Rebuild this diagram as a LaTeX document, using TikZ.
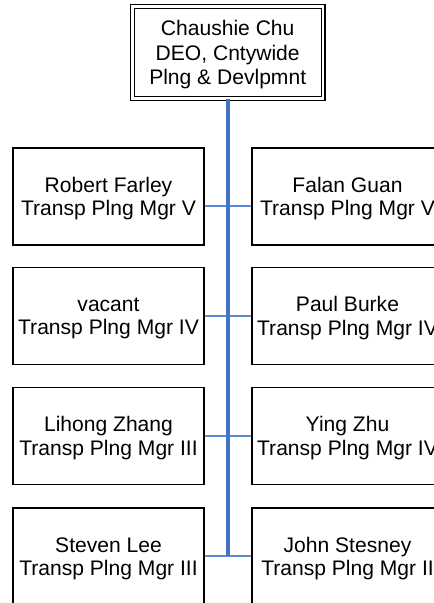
\documentclass[tikz,border=0pt]{standalone}
\usepackage{fontspec}
\setmainfont{Liberation Sans}
\definecolor{trunk}{HTML}{4472C4}
\definecolor{branch}{HTML}{5B8BD6}
\begin{document}
\begin{tikzpicture}[x=0.75pt,y=-0.75pt,
  person/.style={draw=black, line width=1.1pt, minimum width=143.25pt, minimum height=72.75pt,
    align=center, inner sep=0pt, text depth=0pt, font=\fontsize{15.8}{17.6}\selectfont},
  headbox/.style={draw=black, line width=1pt, double=white, double distance=1.7pt,
    minimum width=143pt, minimum height=69pt, align=center, inner sep=0pt, text depth=0pt,
    font=\fontsize{15.8}{18.2}\selectfont},
  trunkline/.style={draw=trunk, line width=2.3pt},
  branchline/.style={draw=branch, line width=1.4pt}]
\useasboundingbox (0,0) rectangle (434,603);
\clip (0,0) rectangle (434,603);
\fill[white] (0,0) rectangle (434,603);
\node[headbox] (top) at (227.7,52.4) {Chaushie Chu\\DEO, Cntywide\\Plng \& Devlpmnt};
\node[person] (l1) at (108.5,196.5) {Robert Farley\\Transp Plng Mgr V};
\node[person] (r1) at (347.5,196.5) {Falan Guan\\Transp Plng Mgr V};
\node[person] (l2) at (108.5,316) {vacant\\Transp Plng Mgr IV};
\node[person] (r2) at (347.5,316) {Paul Burke\\Transp Plng Mgr IV};
\node[person] (l3) at (108.5,436) {Lihong Zhang\\Transp Plng Mgr III};
\node[person] (r3) at (347.5,436) {Ying Zhu\\Transp Plng Mgr IV};
\node[person] (l4) at (108.5,556.5) {Steven Lee\\Transp Plng Mgr III};
\node[person] (r4) at (347.5,556.5) {John Stesney\\Transp Plng Mgr II};
\coordinate (c1) at (228,206);
\coordinate (c2) at (228,316);
\coordinate (c3) at (228,436);
\coordinate (c4) at (228,556);
\draw[branchline] (l1.east |- c1) -- (r1.west |- c1);
\draw[branchline] (l2.east |- c2) -- (r2.west |- c2);
\draw[branchline] (l3.east |- c3) -- (r3.west |- c3);
\draw[branchline] (l4.east |- c4) -- (r4.west |- c4);
\draw[trunkline] (top.south -| c1) -- (c4);
\end{tikzpicture}
\end{document}
